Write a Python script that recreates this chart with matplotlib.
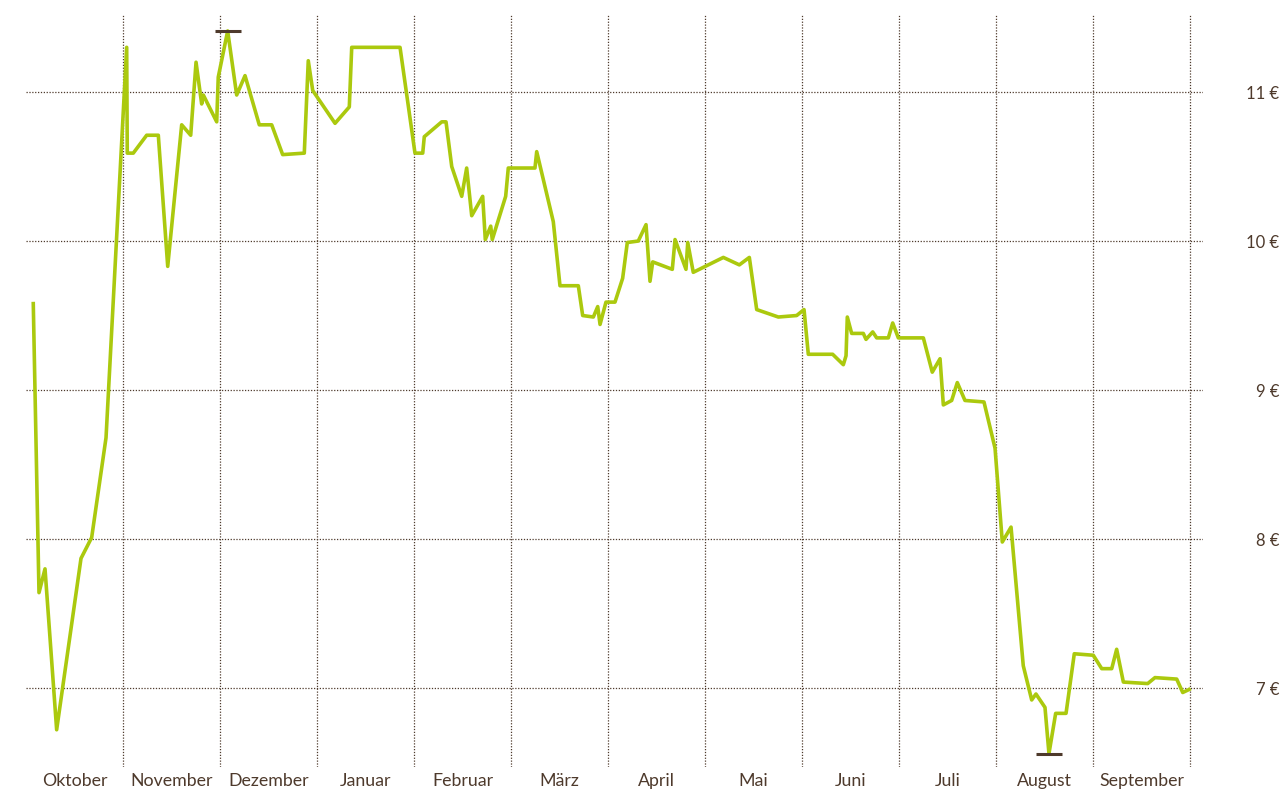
import matplotlib.pyplot as plt
import numpy as np

# monate (gleich breit), position t = monatsindex ab oktober
monate = ['Oktober', 'November', 'Dezember', 'Januar', 'Februar', 'März',
          'April', 'Mai', 'Juni', 'Juli', 'August', 'September']

t = [0.075, 0.134, 0.196, 0.316, 0.567, 0.677, 0.825, 1.038, 1.044, 1.106,
     1.244, 1.364, 1.461, 1.605, 1.698, 1.753, 1.811, 1.828, 1.966, 1.982,
     2.079, 2.172, 2.258, 2.405, 2.533, 2.646, 2.869, 2.910, 2.956, 3.186,
     3.333, 3.358, 3.856, 4.010, 4.090, 4.106, 4.286, 4.330, 4.389, 4.492,
     4.543, 4.595, 4.708, 4.735, 4.791, 4.807, 4.945, 4.972, 5.247, 5.265,
     5.436, 5.505, 5.694, 5.739, 5.849, 5.894, 5.918, 5.979, 6.072, 6.151,
     6.199, 6.312, 6.392, 6.433, 6.461, 6.663, 6.691, 6.804, 6.822, 6.879,
     7.189, 7.354, 7.457, 7.533, 7.756, 7.945, 8.021, 8.065, 8.316, 8.426,
     8.454, 8.467, 8.512, 8.632, 8.660, 8.729, 8.770, 8.890, 8.935, 8.993,
     9.251, 9.343, 9.423, 9.457, 9.543, 9.601, 9.680, 9.876, 9.990, 10.065,
     10.155, 10.281, 10.368, 10.412, 10.505, 10.546, 10.615, 10.722, 10.807, 11.003,
     11.090, 11.193, 11.244, 11.313, 11.564, 11.639, 11.863, 11.925, 11.99]

preis = [9.58, 7.64, 7.80, 6.72, 7.87, 8.01, 8.68, 11.30, 10.59, 10.59,
         10.71, 10.71, 9.83, 10.78, 10.71, 11.20, 10.92, 10.98, 10.80, 11.10,
         11.41, 10.98, 11.11, 10.78, 10.78, 10.58, 10.59, 11.21, 11.01, 10.79,
         10.90, 11.30, 11.30, 10.59, 10.59, 10.70, 10.80, 10.80, 10.50, 10.30,
         10.49, 10.17, 10.30, 10.01, 10.10, 10.01, 10.30, 10.49, 10.49, 10.60,
         10.13, 9.70, 9.70, 9.50, 9.49, 9.56, 9.44, 9.59, 9.59, 9.75,
         9.99, 10.00, 10.11, 9.73, 9.86, 9.81, 10.01, 9.81, 9.99, 9.79,
         9.89, 9.84, 9.89, 9.54, 9.49, 9.50, 9.54, 9.24, 9.24, 9.17,
         9.23, 9.49, 9.38, 9.38, 9.34, 9.39, 9.35, 9.35, 9.45, 9.35,
         9.35, 9.12, 9.21, 8.90, 8.93, 9.05, 8.93, 8.92, 8.61, 7.98,
         8.08, 7.15, 6.92, 6.96, 6.87, 6.56, 6.83, 6.83, 7.23, 7.22,
         7.13, 7.13, 7.26, 7.04, 7.03, 7.07, 7.06, 6.97, 6.99]

y_ticks = [7, 8, 9, 10, 11]

gruen = '#abc90e'
braun = '#4e3a2c'

plt.rcParams['font.family'] = ['Lato', 'DejaVu Sans']

fig = plt.figure(figsize=(12.84, 7.89), dpi=100)
ax = fig.add_axes([26/1284, 1-767/789, 1177/1284, 752/789])

ax.plot(t, preis, color=gruen, lw=2.6, zorder=3)

# max / min markierung
tt = np.array(t); pp = np.array(preis)
i_max = pp.argmax(); i_min = pp.argmin()
ax.plot([tt[i_max], tt[i_min]], [pp[i_max], pp[i_min]], ls='none', marker='_',
        ms=19, mew=2.2, color=braun, zorder=4)

ax.set_xlim(0, 12.134)
ax.set_ylim(6.47, 11.517)

# gitter
for m in range(1, 13):
    ax.axvline(m, color=braun, lw=0.9, ls=(0, (1, 1.3)), zorder=1)
for v in y_ticks:
    ax.axhline(v, color=braun, lw=0.9, ls=(0, (1, 1.3)), zorder=1)

ax.set_xticks(np.arange(12) + 0.5)
ax.set_xticklabels(monate, fontsize=12.8, color=braun)
ax.tick_params(axis='x', length=0, pad=4.5)

ax.yaxis.tick_right()
ax.set_yticks(y_ticks)
ax.set_yticklabels([f'{v} €' for v in y_ticks], fontsize=12, color=braun)
ax.tick_params(axis='y', length=0, pad=55)
for lab in ax.get_yticklabels():
    lab.set_horizontalalignment('right')

for s in ax.spines.values():
    s.set_visible(False)

fig.savefig('out.png', dpi=100)
